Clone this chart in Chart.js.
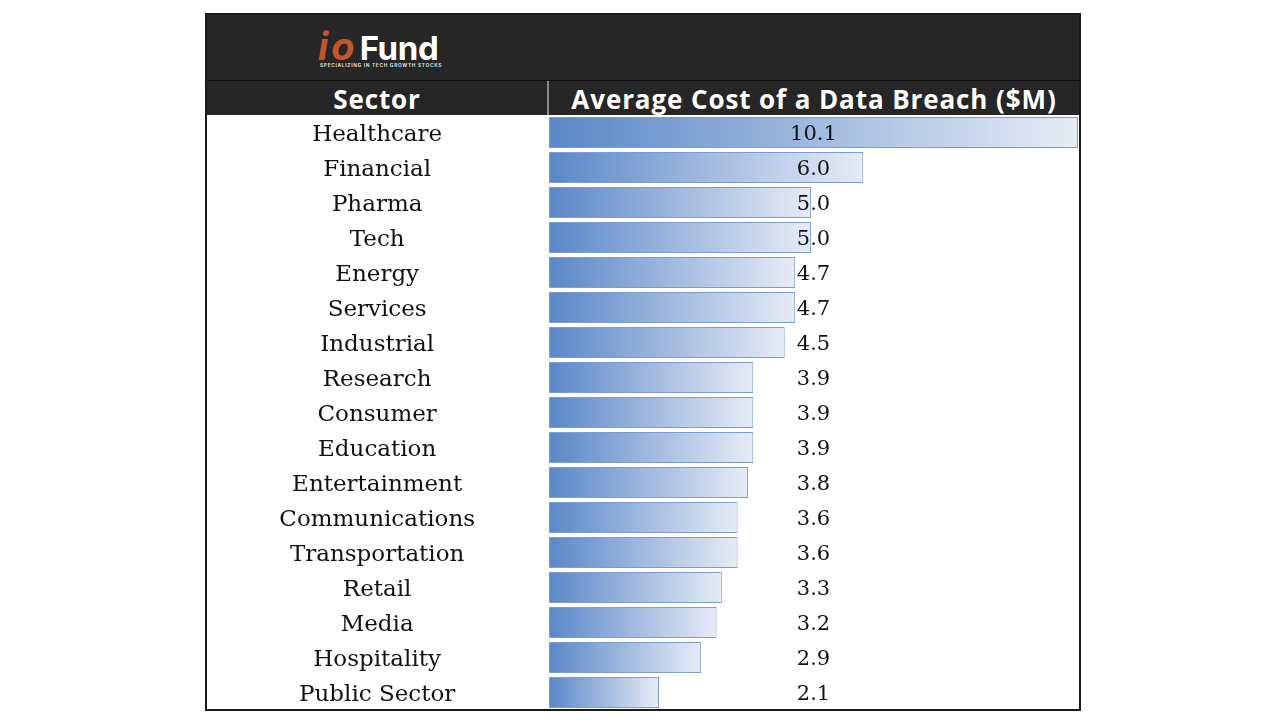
<!DOCTYPE html>
<html>
<head>
<meta charset="utf-8">
<script src="https://cdn.jsdelivr.net/npm/chart.js@4.4.1/dist/chart.umd.min.js"></script>
<style>
  body { margin: 0; background: #fff; width: 1280px; height: 720px; position: relative; overflow: hidden; }
  #box { position: absolute; left: 205px; top: 13px; width: 876px; height: 698px; border: 2px solid #1a1a1a; box-sizing: border-box; }
  #band { position: absolute; left: 206px; top: 14px; width: 873px; height: 66px; background: #262626; }
  #line { position: absolute; left: 206px; top: 80px; width: 873px; height: 1px; background: #111; }
  #hdr { position: absolute; left: 206px; top: 81px; width: 873px; height: 34px; background: #262626; }
  #hdr div { position: absolute; top: 0; height: 34px; line-height: 36px; color: #fff; font-family: "Open Sans", sans-serif; font-weight: 700; font-size: 26px; letter-spacing: 0.9px; text-align: center; }
  #sep { position: absolute; left: 547px; top: 81px; width: 2px; height: 34px; background: #8a8a8a; }
  #logo { position: absolute; left: 318px; top: 29px; font-family: Inter, sans-serif; font-weight: 700; }
  #logo .name { font-size: 33px; line-height: 34px; color: #fff; letter-spacing: -0.3px; }
  #logo .io { color: #c2562a; font-style: italic; font-size: 38px; letter-spacing: 3px; margin-right: 2px; }
  #logo .tag { font-size: 4.8px; color: #ddd; letter-spacing: 0.7px; margin-top: -3px; margin-left: 2px; }
  #wrap { position: absolute; left: 206px; top: 115px; width: 873px; height: 595px; }
</style>
</head>
<body>
<div id="band"></div>
<div id="line"></div>
<div id="hdr">
  <div style="left:0;width:342px;">Sector</div>
  <div style="left:343px;width:530px;">Average Cost of a Data Breach ($M)</div>
</div>
<div id="sep"></div>
<div id="logo">
  <div class="name"><span class="io">io</span>Fund</div>
  <div class="tag">SPECIALIZING IN TECH GROWTH STOCKS</div>
</div>
<div id="box"></div>
<div id="wrap"><canvas id="chart"></canvas></div>
<script>
const sectors = ['Healthcare', 'Financial', 'Pharma', 'Tech', 'Energy', 'Services', 'Industrial',
  'Research', 'Consumer', 'Education', 'Entertainment', 'Communications', 'Transportation',
  'Retail', 'Media', 'Hospitality', 'Public Sector'];
const breachCost = [10.1, 6.0, 5.0, 5.0, 4.7, 4.7, 4.5, 3.9, 3.9, 3.9, 3.8, 3.6, 3.6, 3.3, 3.2, 2.9, 2.1];
const valueLabels = ['10.1', '6.0', '5.0', '5.0', '4.7', '4.7', '4.5', '3.9', '3.9', '3.9', '3.8', '3.6', '3.6', '3.3', '3.2', '2.9', '2.1'];

const labelFont = '23px "DejaVu Serif", serif';

// widest sector label, so the tick labels can be centred in the left column
const mctx = document.createElement('canvas').getContext('2d');
mctx.font = labelFont;
const widest = Math.max(...sectors.map(s => mctx.measureText(s).width));
const labelPad = Math.round(549 - 377 - widest / 2);

function barGradient(ctx) {
    const chart = ctx.chart;
    if (!chart.chartArea || ctx.raw === undefined) return '#7a9fd6';
    const xs = chart.scales.x;
    const x0 = xs.getPixelForValue(0);
    const x1 = xs.getPixelForValue(ctx.raw);
    const g = chart.ctx.createLinearGradient(x0, 0, x1, 0);
    g.addColorStop(0, '#5a87c8');
    g.addColorStop(1, '#e6ecf6');
    return g;
}

const valuePlugin = {
    id: 'valueText',
    afterDatasetsDraw(chart) {
        const c = chart.ctx;
        const area = chart.chartArea;
        const cx = (area.left + area.right) / 2;
        c.save();
        c.font = '21px "DejaVu Serif", serif';
        c.fillStyle = '#111';
        c.textAlign = 'center';
        c.textBaseline = 'middle';
        chart.getDatasetMeta(0).data.forEach((bar, i) => {
            c.fillText(valueLabels[i], cx, bar.y + 2);
        });
        c.restore();
    }
};

new Chart(document.getElementById('chart'), {
    type: 'bar',
    data: {
        labels: sectors,
        datasets: [{
            data: breachCost,
            backgroundColor: barGradient,
            borderColor: '#7d9cd0',
            borderWidth: 1,
            borderSkipped: false,
            barPercentage: 0.89,
            categoryPercentage: 1
        }]
    },
    options: {
        indexAxis: 'y',
        responsive: true,
        maintainAspectRatio: false,
        animation: false,
        layout: { padding: { right: 1 } },
        plugins: { legend: { display: false }, tooltip: { enabled: false } },
        scales: {
            x: { display: false, min: 0, max: 10.1 },
            y: {
                grid: { display: false, drawTicks: false },
                border: { display: false },
                afterFit(scale) {
                    scale.width = 343;
                    scale.paddingTop = 0;
                    scale.paddingBottom = 0;
                },
                ticks: {
                    crossAlign: 'center',
                    padding: labelPad,
                    labelOffset: 3,
                    color: '#111',
                    font: { family: '"DejaVu Serif", serif', size: 23 }
                }
            }
        }
    },
    plugins: [valuePlugin]
});
</script>
</body>
</html>
